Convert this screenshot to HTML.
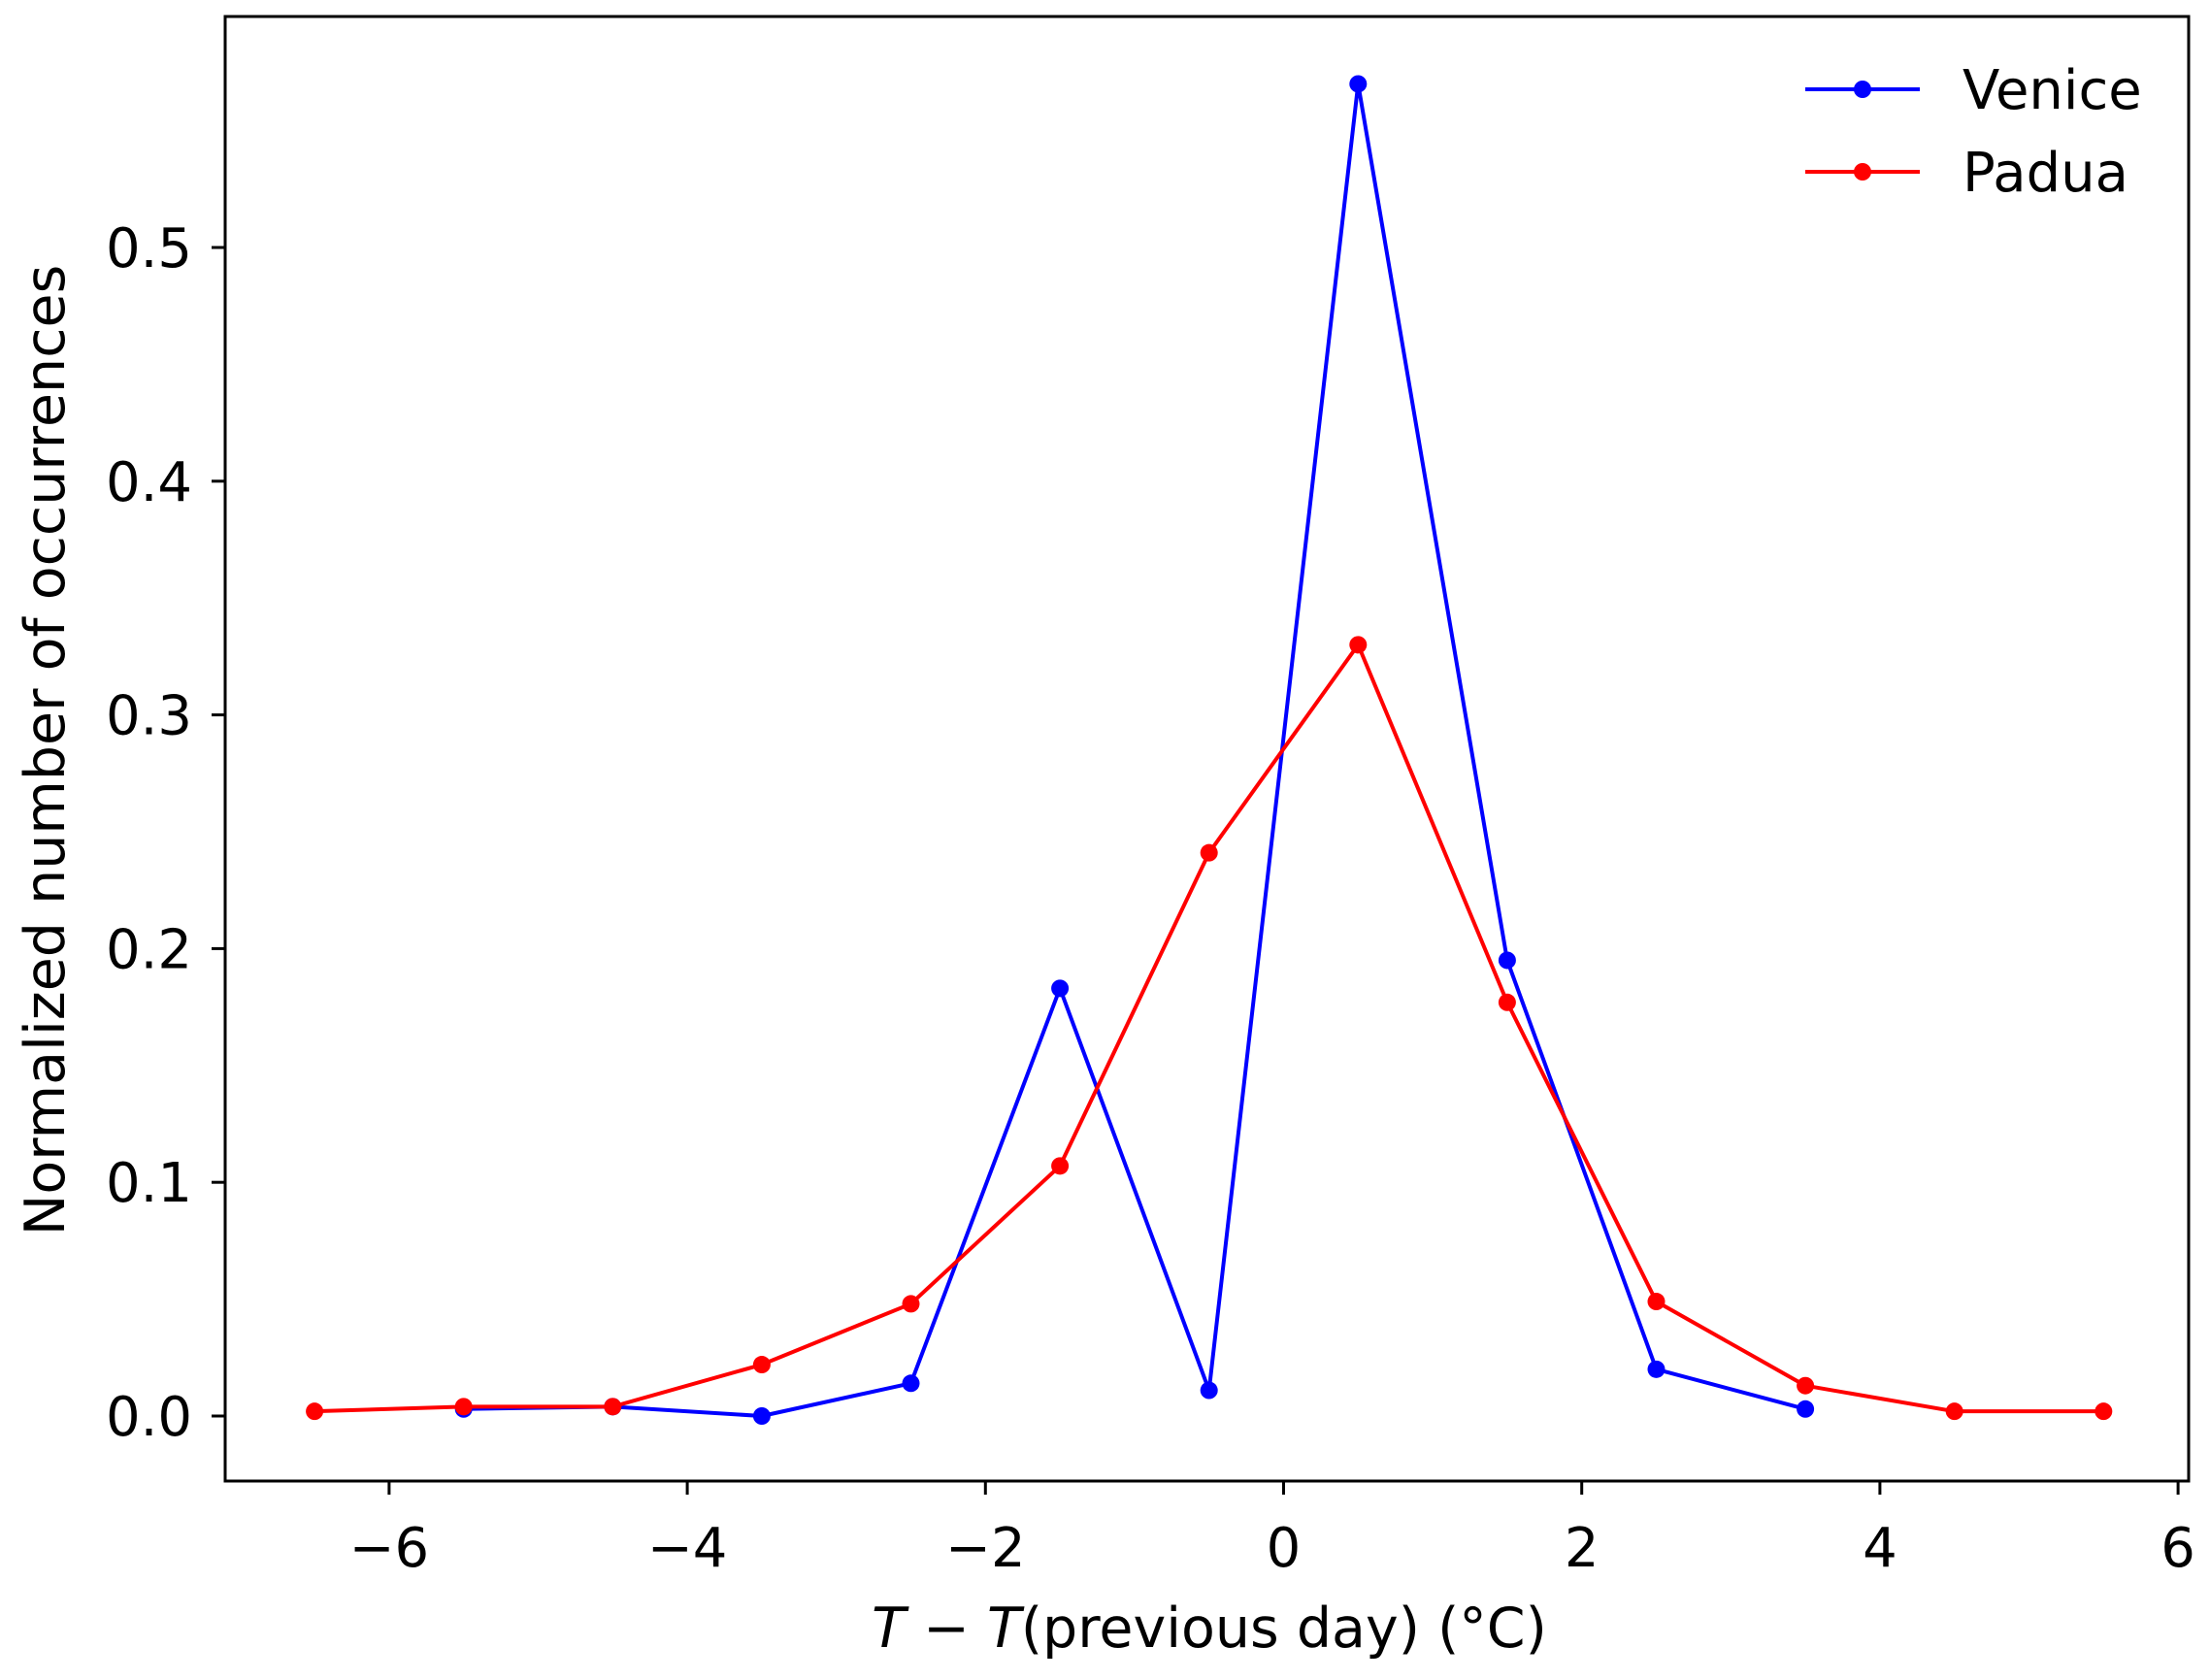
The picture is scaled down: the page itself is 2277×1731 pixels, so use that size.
<!DOCTYPE html>
<html><head><meta charset="utf-8"><style>
html,body{margin:0;padding:0;background:#fff;}
svg{display:block;font-family:"DejaVu Sans","Liberation Sans",sans-serif;}
</style></head><body>
<svg id="chart" width="2277" height="1731" viewBox="0 0 2277 1731" xmlns="http://www.w3.org/2000/svg">
<rect x="0" y="0" width="2277" height="1731" fill="#fff"/>
<g id="series"></g>
<g id="axes"></g>
<g>
  <line x1="1860" y1="92" x2="1978" y2="92" stroke="#0000ff" stroke-width="4"/>
  <circle cx="1919" cy="92" r="9" fill="#0000ff"/>
  <text x="2022" y="112" font-size="56">Venice</text>
  <line x1="1860" y1="177" x2="1978" y2="177" stroke="#ff0000" stroke-width="4"/>
  <circle cx="1919" cy="177" r="9" fill="#ff0000"/>
  <text x="2022" y="197" font-size="56">Padua</text>
</g>
<text x="1246" y="1697" font-size="57" text-anchor="middle"><tspan font-style="italic">T</tspan> − <tspan font-style="italic">T</tspan>(previous day) (°C)</text>
<text transform="translate(66,773) rotate(-90)" font-size="57" text-anchor="middle">Normalized number of occurrences</text>
</svg>
<script>
const xTicks = [-6,-4,-2,0,2,4,6];
const yTicks = [0.0,0.1,0.2,0.3,0.4,0.5];
const veniceX = [-5.5,-4.5,-3.5,-2.5,-1.5,-0.5,0.5,1.5,2.5,3.5];
const veniceY = [0.003,0.004,0.0,0.014,0.183,0.011,0.57,0.195,0.02,0.003];
const paduaX = [-6.5,-5.5,-4.5,-3.5,-2.5,-1.5,-0.5,0.5,1.5,2.5,3.5,4.5,5.5];
const paduaY = [0.002,0.004,0.004,0.022,0.048,0.107,0.241,0.33,0.177,0.049,0.013,0.002,0.002];

const NS="http://www.w3.org/2000/svg";
const L=232,R=2255,T=17,B=1526;
function sx(v){return 1322.5+v*153.6;}
function sy(v){return 1459-v*2408;}
function mk(tag,attrs,parent){const e=document.createElementNS(NS,tag);for(const k in attrs)e.setAttribute(k,attrs[k]);parent.appendChild(e);return e;}
const axes=document.getElementById('axes');
const series=document.getElementById('series');
function drawSeries(xs,ys,color,name){
  const pts=xs.map((x,i)=>sx(x)+','+sy(ys[i])).join(' ');
  const pl=mk('polyline',{points:pts,fill:'none',stroke:color,'stroke-width':4,'stroke-linejoin':'round'},series);
  
  
  xs.forEach((x,i)=>{
    const c=mk('circle',{cx:sx(x),cy:sy(ys[i]),r:9,fill:color},series);
    
    
  });
}
drawSeries(veniceX,veniceY,'#0000ff','venice');
drawSeries(paduaX,paduaY,'#ff0000','padua');
const frame=mk('rect',{x:L,y:T,width:R-L,height:B-T,fill:'none',stroke:'#000','stroke-width':3},axes);


xTicks.forEach(v=>{
  const x=sx(v);
  mk('line',{x1:x,y1:B,x2:x,y2:B+14,stroke:'#000','stroke-width':3},axes);
  const t=mk('text',{x:x,y:1614,'font-size':56,'text-anchor':'middle'},axes);
  t.textContent=(v<0?'−':'')+Math.abs(v);
  
  
});
yTicks.forEach(v=>{
  const y=sy(v);
  mk('line',{x1:L-14,y1:y,x2:L,y2:y,stroke:'#000','stroke-width':3},axes);
  const t=mk('text',{x:198,y:y+20,'font-size':56,'text-anchor':'end'},axes);
  t.textContent=v.toFixed(1);
  
  
});
</script>
</body></html>
